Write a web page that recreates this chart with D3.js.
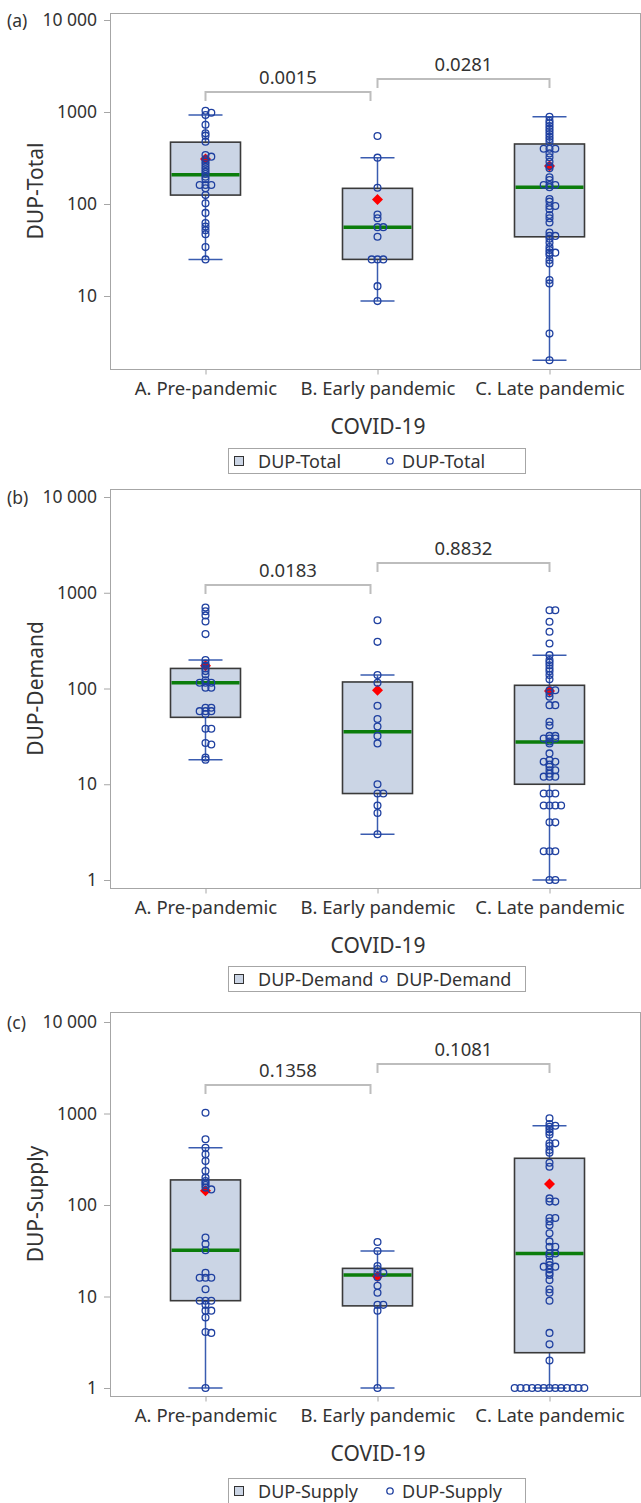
<!DOCTYPE html>
<html>
<head>
<meta charset="utf-8">
<script src="https://cdn.jsdelivr.net/npm/d3@7"></script>
<style>
  body { margin: 0; background: #fff; }
  svg text { font-family: "Noto Sans", "Open Sans", sans-serif; fill: #333; }
</style>
</head>
<body>
<div id="chart"></div>
<script>
// categories and axis ticks
const categories = ["A. Pre-pandemic", "B. Early pandemic", "C. Late pandemic"];
const yTickValues = [1, 10, 100, 1000, 10000];
const yTickLabels = ["1", "10", "100", "1000", "10 000"];

// (a) DUP-Total, individual patients
const totalPre = [1030, 980, 928, 728, 587, 553, 476, 341, 327, 306, 288, 272, 254, 238, 224, 212, 198, 186, 161, 161, 161, 148, 125, 102, 80, 62, 57, 52, 47, 34, 25];
const totalEarly = [548, 319, 150, 77, 70, 56, 56, 44, 25, 25, 25, 12.8, 8.8];
const totalLate = [889, 804, 754, 705, 659, 617, 577, 539, 505, 472, 399, 399, 399, 355, 322, 288, 259, 244, 195, 182, 161, 161, 161, 152, 113, 106, 95, 95, 87.5, 76, 70, 63, 49, 45, 45, 42, 38, 34, 31.6, 29.6, 29.6, 27.9, 24.6, 22.6, 14.9, 13.7, 3.9, 2];
// (a) box statistics per category
const totalLow = [25, 8.8, 2];
const totalQ1 = [125, 25, 44];
const totalMedian = [208, 56, 152];
const totalQ3 = [470, 148, 449];
const totalHigh = [927, 319, 889];
const totalMean = [308, 112, 259];
const totalP = ["0.0015", "0.0281"];

// (b) DUP-Demand
const demandPre = [700, 640, 580, 500, 370, 198, 182, 173, 162, 152, 140, 122, 115, 115, 115, 102, 102, 63, 63, 58, 58, 58, 54, 38, 38, 27, 26, 19, 18];
const demandEarly = [517, 307, 138, 115, 66, 48, 40, 32, 26.7, 10, 8, 8, 6, 5, 3];
const demandLate = [657, 657, 498, 391, 295, 223, 198, 187, 175, 162, 151, 138, 125, 96, 96, 89, 82, 67, 67, 45, 41, 32, 32, 30, 30, 30, 28, 26.6, 21, 17.8, 17.2, 17.2, 16.1, 15.2, 14, 14, 12.9, 12, 12, 12, 8, 8, 8, 6, 6, 6, 6, 4, 4, 2, 2, 2, 1, 1];
const demandLow = [18, 3, 1];
const demandQ1 = [50, 8, 10];
const demandMedian = [115, 35.3, 27.7];
const demandQ3 = [162, 117, 108];
const demandHigh = [198, 138, 223];
const demandMean = [173, 96, 94];
const demandP = ["0.0183", "0.8832"];

// (c) DUP-Supply
const supplyPre = [1020, 523, 423, 358, 303, 235, 199, 183, 174, 165, 155, 148, 44, 37.5, 32, 18.2, 16, 16, 16, 12, 9, 9, 9, 8.1, 7, 7, 5.9, 4.1, 4, 1];
const supplyEarly = [39.4, 31.4, 21.5, 20, 18.2, 18.2, 16.2, 13.1, 11, 8.1, 8.1, 7, 1];
const supplyLate = [887, 768, 736, 717, 672, 628, 587, 472, 472, 442, 399, 373, 290, 262, 118, 109, 109, 72, 72, 66, 60, 49, 40, 35, 35, 29.6, 29.6, 27.7, 24, 22, 21.2, 21.2, 19.8, 18.2, 17.2, 15.1, 12, 11, 9, 4, 3, 2, 1, 1, 1, 1, 1, 1, 1, 1, 1, 1, 1, 1, 1];
const supplyLow = [1, 1, 1];
const supplyQ1 = [9, 7.9, 2.43];
const supplyMedian = [32, 17.2, 29.6];
const supplyQ3 = [188, 20.3, 324];
const supplyHigh = [423, 31.4, 736];
const supplyMean = [143, 16.5, 170];
const supplyP = ["0.1358", "0.1081"];

// layout of the three stacked panels
const panels = [
  { tag: "(a)", name: "DUP-Total", points: [totalPre, totalEarly, totalLate],
    low: totalLow, q1: totalQ1, median: totalMedian, q3: totalQ3, high: totalHigh, mean: totalMean, p: totalP,
    top: 13, bottom: 369, y1: 388, y10k: 20, brackets: [79, 66], legendTop: 448, legendCol: 387 },
  { tag: "(b)", name: "DUP-Demand", points: [demandPre, demandEarly, demandLate],
    low: demandLow, q1: demandQ1, median: demandMedian, q3: demandQ3, high: demandHigh, mean: demandMean, p: demandP,
    top: 489, bottom: 888, y1: 880, y10k: 497, brackets: [96, 74], legendTop: 966, legendCol: 381 },
  { tag: "(c)", name: "DUP-Supply", points: [supplyPre, supplyEarly, supplyLate],
    low: supplyLow, q1: supplyQ1, median: supplyMedian, q3: supplyQ3, high: supplyHigh, mean: supplyMean, p: supplyP,
    top: 1012, bottom: 1396, y1: 1388, y10k: 1022, brackets: [73, 52], legendTop: 1478, legendCol: 387 }
];

const W = 641, H = 1503;
const frameLeft = 110, frameRight = 640;
const boxW = 70, capW = 34, dotR = 3.4, slot = 5.8;
const boxFill = "#cbd5e5", dotColor = "#1f40a0", whiskerColor = "#3a5cb0";

const svg = d3.select("#chart").append("svg")
    .attr("width", W)
    .attr("height", H);

const x = d3.scalePoint()
    .domain(categories)
    .range([205.5, 549.5]);

// spread out markers that land on the same spot (like SAS jitter)
function dodge(values, y) {
  const placed = [];
  return values.map(v => {
    const py = y(v);
    let k = 0, off = 0;
    while (true) {
      off = k === 0 ? 0 : (k % 2 ? 1 : -1) * Math.ceil(k / 2) * slot;
      const hit = placed.some(q => Math.abs(q.py - py) < 2 && Math.abs(q.off - off) < slot * 0.9);
      if (!hit) break;
      k++;
    }
    const pt = { v: v, py: py, off: off };
    placed.push(pt);
    return pt;
  });
}

function drawPanel(p) {
  const y = d3.scaleLog().domain([1, 10000]).range([p.y1, p.y10k]);
  const g = svg.append("g");

  // frame
  g.append("rect")
      .attr("x", frameLeft + 0.5)
      .attr("y", p.top + 0.5)
      .attr("width", frameRight - frameLeft)
      .attr("height", p.bottom - p.top)
      .attr("fill", "none")
      .attr("stroke", "#a6a6a6");

  // y axis
  const ticks = yTickValues.filter(v => y(v) <= p.bottom && y(v) >= p.top);
  const yAxis = g.append("g")
      .attr("transform", "translate(" + frameLeft + ",0)")
      .call(d3.axisLeft(y).tickValues(ticks)
        .tickFormat(v => yTickLabels[yTickValues.indexOf(v)])
        .tickSize(6).tickPadding(7));
  yAxis.select(".domain").remove();
  yAxis.selectAll("line").attr("stroke", "#a6a6a6");
  yAxis.selectAll("text").style("font-size", "17.5px").attr("fill", "#333");

  // x axis
  const xAxis = g.append("g")
      .attr("transform", "translate(0," + (p.bottom + 0.5) + ")")
      .call(d3.axisBottom(x).tickSize(5).tickPadding(7));
  xAxis.select(".domain").remove();
  xAxis.selectAll("line").attr("stroke", "#a6a6a6");
  xAxis.selectAll("text").style("font-size", "18.5px").attr("fill", "#333");

  // titles
  g.append("text")
      .attr("x", 7).attr("y", p.y10k)
      .attr("dominant-baseline", "central")
      .style("font-size", "17.5px")
      .text(p.tag);
  g.append("text")
      .attr("transform", "translate(43," + ((p.top + p.bottom) / 2) + ")rotate(-90)")
      .attr("text-anchor", "middle")
      .style("font-size", "21px")
      .text(p.name);
  g.append("text")
      .attr("x", 378).attr("y", p.bottom + 65)
      .attr("text-anchor", "middle")
      .style("font-size", "21px")
      .text("COVID-19");

  // whiskers
  categories.forEach((c, i) => {
    const cx = x(c);
    g.append("line")
        .attr("x1", cx).attr("x2", cx)
        .attr("y1", y(p.low[i])).attr("y2", y(p.high[i]))
        .attr("stroke", whiskerColor).attr("stroke-width", 1.5);
    [p.low[i], p.high[i]].forEach(v => {
      g.append("line")
          .attr("x1", cx - capW / 2).attr("x2", cx + capW / 2)
          .attr("y1", y(v)).attr("y2", y(v))
          .attr("stroke", whiskerColor).attr("stroke-width", 1.5);
    });
  });

  // boxes
  g.selectAll(".box")
      .data(categories)
      .enter()
    .append("rect")
      .attr("x", d => x(d) - boxW / 2)
      .attr("y", (d, i) => y(p.q3[i]))
      .attr("width", boxW)
      .attr("height", (d, i) => y(p.q1[i]) - y(p.q3[i]))
      .attr("fill", boxFill)
      .attr("stroke", "#3a3a3a")
      .attr("stroke-width", 1.6);

  // medians
  g.selectAll(".median")
      .data(categories)
      .enter()
    .append("line")
      .attr("x1", d => x(d) - boxW / 2 + 1)
      .attr("x2", d => x(d) + boxW / 2 - 1)
      .attr("y1", (d, i) => y(p.median[i]))
      .attr("y2", (d, i) => y(p.median[i]))
      .attr("stroke", "#0b7d0b")
      .attr("stroke-width", 3.5);

  // means (red diamonds)
  g.selectAll(".mean")
      .data(categories)
      .enter()
    .append("path")
      .attr("transform", (d, i) => "translate(" + x(d) + "," + y(p.mean[i]) + ")")
      .attr("d", "M0,-5.5L5.5,0L0,5.5L-5.5,0Z")
      .attr("fill", "#ff0000");

  // individual points
  categories.forEach((c, i) => {
    g.selectAll(null)
        .data(dodge(p.points[i], y))
        .enter()
      .append("circle")
        .attr("cx", d => x(c) + d.off)
        .attr("cy", d => d.py)
        .attr("r", dotR)
        .attr("fill", "none")
        .attr("stroke", dotColor)
        .attr("stroke-width", 1.3);
  });

  // comparison brackets with p-values
  const pairs = [[0, 1, -7], [1, 2, 0]];
  pairs.forEach((pr, j) => {
    const x0 = x(categories[pr[0]]), x1 = x(categories[pr[1]]) + pr[2];
    const by = p.top + p.brackets[j];
    g.append("path")
        .attr("d", "M" + x0 + "," + (by + 9) + "V" + by + "H" + x1 + "V" + (by + 9))
        .attr("fill", "none")
        .attr("stroke", "#bdbdbd")
        .attr("stroke-width", 2);
    g.append("text")
        .attr("x", (x0 + x1) / 2).attr("y", by - 8)
        .attr("text-anchor", "middle")
        .attr("fill", "#8a8a8a")
        .style("font-size", "18.5px")
        .text(p.p[j]);
  });

  // legend
  const lg = g.append("g").attr("transform", "translate(0," + p.legendTop + ")");
  lg.append("rect")
      .attr("x", 228.5).attr("y", 0.5)
      .attr("width", 297).attr("height", 25)
      .attr("fill", "#fff")
      .attr("stroke", "#a6a6a6");
  lg.append("rect")
      .attr("x", 234.5).attr("y", 8.5)
      .attr("width", 9).attr("height", 9)
      .attr("fill", boxFill)
      .attr("stroke", "#333");
  lg.append("text")
      .attr("x", 258).attr("y", 13)
      .attr("dominant-baseline", "central")
      .style("font-size", "18px")
      .text(p.name);
  lg.append("circle")
      .attr("cx", p.legendCol + 3).attr("cy", 13)
      .attr("r", 3.2)
      .attr("fill", "none")
      .attr("stroke", dotColor)
      .attr("stroke-width", 1.3);
  lg.append("text")
      .attr("x", p.legendCol + 15).attr("y", 13)
      .attr("dominant-baseline", "central")
      .style("font-size", "18px")
      .text(p.name);
}

panels.forEach(drawPanel);
</script>
</body>
</html>
